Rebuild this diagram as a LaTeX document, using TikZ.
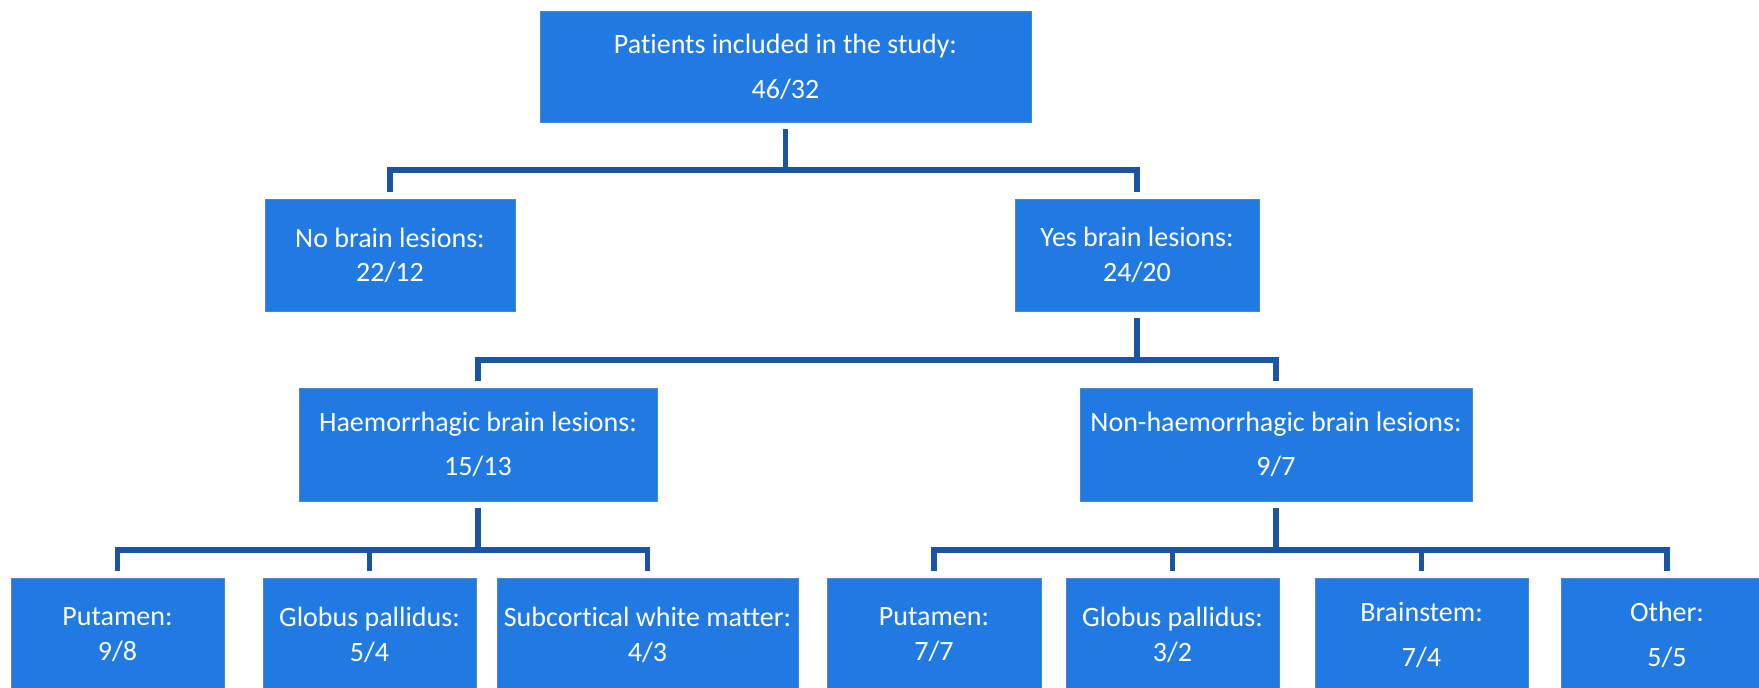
\documentclass[tikz,border=0pt]{standalone}
\usepackage{fontspec}
\setmainfont{Carlito}[RawFeature=-liga]
\definecolor{boxfill}{RGB}{33,122,226}
\definecolor{boxline}{RGB}{74,134,212}
\definecolor{conn}{RGB}{27,84,163}
\begin{document}
\begin{tikzpicture}[x=0.5pt,y=-0.5pt,
  box/.style={rectangle, fill=boxfill, draw=boxline, line width=0.4pt, text=white,
    align=center, font=\fontsize{14}{17}\selectfont, inner sep=0pt},
  link/.style={draw=conn, line width=2.6pt, shorten <=3.3pt, shorten >=3.1pt}]
\useasboundingbox (0,0) rectangle (1759,687);
\clip (0,0) rectangle (1759,687);
\fill[white] (0,0) rectangle (1759,687);
% level 0
\node[box, minimum width=245.5pt, minimum height=55.5pt] (top) at (785.5,66.5)
  {Patients included in the study:\\[5.5pt]46/32};
% level 1
\node[box, minimum width=125pt, minimum height=56pt] (no) at (390,255)
  {No brain lesions:\\22/12};
\node[box, minimum width=122pt, minimum height=56pt] (yes) at (1137,255)
  {Yes brain lesions:\\[0.5pt]24/20};
% level 2
\node[box, minimum width=179pt, minimum height=56.5pt] (haem) at (478,444.5)
  {Haemorrhagic brain lesions:\\[5pt]15/13};
\node[box, minimum width=196pt, minimum height=56.5pt] (nonhaem) at (1276,444.5)
  {Non-haemorrhagic brain lesions:\\[5pt]9/7};
% level 3
\node[box, minimum width=106.5pt, minimum height=57pt] (p1) at (117.5,635)
  {Putamen:\\[0.5pt]9/8};
\node[box, minimum width=106.5pt, minimum height=57pt] (g1) at (369.5,635)
  {Globus pallidus:\\[0.5pt]5/4};
\node[box, minimum width=150.5pt, minimum height=57pt] (s1) at (647.5,635)
  {Subcortical white matter:\\[0.5pt]4/3};
\node[box, minimum width=107pt, minimum height=57pt] (p2) at (934,635)
  {Putamen:\\[0.5pt]7/7};
\node[box, minimum width=106.5pt, minimum height=57pt] (g2) at (1172.5,635)
  {Globus pallidus:\\[0.5pt]3/2};
\node[box, minimum width=106.5pt, minimum height=57pt] (b2) at (1421.5,635)
  {Brainstem:\\[5.5pt]7/4};
\node[box, minimum width=106pt, minimum height=57pt] (o2) at (1667,635)
  {Other:\\[5.5pt]5/5};
% bus levels
\coordinate (bus1) at (0,170);
\coordinate (bus2) at (0,360);
\coordinate (bus3) at (0,550);
% connectors
\draw[link] (top.south) -- (top.south |- bus1) -| (no.north);
\draw[link] (top.south) -- (top.south |- bus1) -| (yes.north);
\draw[link] (yes.south) -- (yes.south |- bus2) -| (haem.north);
\draw[link] (yes.south) -- (yes.south |- bus2) -| (nonhaem.north);
\draw[link] (haem.south) -- (haem.south |- bus3) -| (p1.north);
\draw[link] (haem.south) -- (haem.south |- bus3) -| (g1.north);
\draw[link] (haem.south) -- (haem.south |- bus3) -| (s1.north);
\draw[link] (nonhaem.south) -- (nonhaem.south |- bus3) -| (p2.north);
\draw[link] (nonhaem.south) -- (nonhaem.south |- bus3) -| (g2.north);
\draw[link] (nonhaem.south) -- (nonhaem.south |- bus3) -| (b2.north);
\draw[link] (nonhaem.south) -- (nonhaem.south |- bus3) -| (o2.north);
\end{tikzpicture}
\end{document}
